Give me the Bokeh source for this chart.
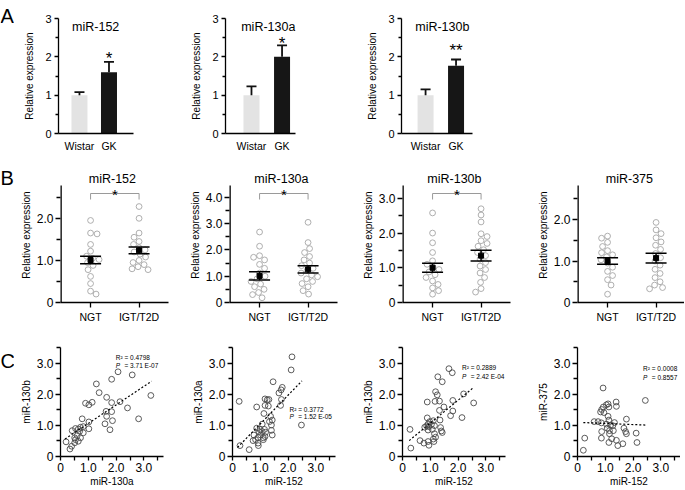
import numpy as np
from bokeh.plotting import figure
from bokeh.layouts import column, row
from bokeh.models import FixedTicker, Label, Range1d, CustomJSTickFormatter
from bokeh.core.properties import value
from bokeh.embed import file_html
from bokeh.resources import INLINE

FONT = "Liberation Sans"

# ---------------- Panel A data ----------------
a_titles = ["miR-152", "miR-130a", "miR-130b"]
a_groups = ["Wistar", "GK"]
a_wistar_mean = [1.0, 1.0, 1.0]
a_wistar_err = [0.08, 0.23, 0.15]
a_gk_mean = [1.6, 2.0, 1.77]
a_gk_err = [0.27, 0.30, 0.16]
a_sig = ["*", "*", "**"]

# ---------------- Panel B data ----------------
b_titles = ["miR-152", "miR-130a", "miR-130b", "miR-375"]
b_groups = ["NGT", "IGT/T2D"]
b_ngt_152 = [1.95, 1.65, 1.63, 1.38, 1.22, 1.1, 1.05, 1.02, 0.95, 0.88, 0.78, 0.62, 0.45, 0.27, 0.2]
b_igt_152 = [2.28, 2.0, 1.65, 1.55, 1.45, 1.38, 1.3, 1.25, 1.2, 1.15, 1.08, 1.0, 0.95, 0.9, 0.85, 0.8, 0.78]
b_ngt_130a = [2.68, 2.14, 1.78, 1.72, 1.62, 1.45, 1.3, 1.12, 1.0, 0.9, 0.8, 0.7, 0.6, 0.5, 0.38, 0.3, 0.18]
b_igt_130a = [3.05, 2.28, 2.05, 1.9, 1.75, 1.62, 1.5, 1.4, 1.3, 1.22, 1.12, 1.05, 0.98, 0.9, 0.8, 0.72, 0.6, 0.45, 0.32]
b_ngt_130b = [2.58, 2.0, 1.72, 1.44, 1.2, 1.1, 1.02, 0.95, 0.88, 0.8, 0.72, 0.62, 0.52, 0.42, 0.34, 0.24]
b_igt_130b = [2.7, 2.52, 2.32, 1.98, 1.9, 1.78, 1.7, 1.62, 1.52, 1.44, 1.35, 1.25, 1.15, 1.05, 0.95, 0.85, 0.72, 0.58, 0.4, 0.3]
b_ngt_375 = [1.6, 1.55, 1.45, 1.35, 1.25, 1.2, 1.15, 1.1, 1.03, 0.95, 0.85, 0.75, 0.65, 0.55, 0.42, 0.2]
b_igt_375 = [1.93, 1.75, 1.66, 1.56, 1.46, 1.38, 1.28, 1.18, 1.08, 1.0, 0.9, 0.8, 0.7, 0.6, 0.5, 0.42, 0.36, 0.33]
b_ngt_mean = [1.01, 1.01, 1.0, 1.0]
b_ngt_sem = [0.09, 0.155, 0.13, 0.08]
b_igt_mean = [1.24, 1.26, 1.35, 1.07]
b_igt_sem = [0.08, 0.14, 0.155, 0.12]
b_sig = ["*", "*", "*", ""]

# ---------------- Panel C data ----------------
c_xlabels = ["miR-130a", "miR-152", "miR-152", "miR-152"]
c_ylabels = ["miR-130b", "miR-130a", "miR-130b", "miR-375"]
c1_x = [2.07, 2.58, 1.84, 1.29, 1.39, 1.66, 3.25, 0.90, 1.02, 1.14, 1.84, 2.14, 2.41, 1.64, 1.84, 1.66, 0.78, 2.81, 1.87, 1.02,
        1.60, 1.78, 1.02, 0.82, 0.72, 0.64, 0.54, 0.42, 0.82, 0.69, 0.60, 0.51, 0.72, 0.64, 0.51, 0.20, 0.40, 0.34, 0.54]
c1_y = [2.72, 2.62, 2.48, 2.33, 2.05, 1.90, 1.96, 1.71, 1.66, 1.74, 1.73, 1.76, 1.56, 1.45, 1.44, 1.29, 1.21, 1.21, 1.15, 1.11,
        1.05, 0.86, 0.89, 0.96, 0.94, 0.88, 0.90, 0.83, 0.76, 0.81, 0.67, 0.60, 0.60, 0.49, 0.44, 0.47, 0.33, 0.24, 0.54]
c2_x = [2.14, 2.11, 1.46, 1.79, 1.75, 1.67, 0.24, 1.17, 1.31, 1.25, 1.17, 1.29, 0.87, 1.76, 1.73, 1.13, 1.37, 1.43, 1.33, 1.07,
        1.40, 2.48, 0.87, 0.99, 1.15, 1.40, 0.95, 1.07, 1.19, 0.77, 1.01, 1.43, 0.92, 1.11, 0.83, 0.74, 1.11, 0.92, 1.17, 0.27,
        0.60, 0.93]
c2_y = [3.20, 2.78, 2.40, 2.22, 2.14, 2.04, 1.77, 1.85, 1.83, 1.82, 1.64, 1.62, 1.59, 1.83, 1.64, 1.38, 1.29, 1.17, 1.12, 1.04,
        1.01, 1.01, 0.91, 0.87, 0.87, 0.84, 0.80, 0.80, 0.78, 0.69, 0.69, 0.69, 0.61, 0.60, 0.54, 0.51, 0.54, 0.43, 0.64, 0.35,
        0.22, 0.35]
c3_x = [1.67, 1.79, 1.27, 1.43, 1.19, 1.25, 0.89, 1.17, 1.33, 1.81, 2.56, 2.20, 1.49, 1.33, 1.81, 1.73, 2.14, 0.89, 1.35, 1.11,
        0.98, 0.92, 1.04, 1.15, 0.87, 0.95, 0.80, 0.27, 0.92, 1.37, 1.40, 1.43, 1.15, 1.07, 1.19, 1.11, 1.13, 0.63, 0.77, 0.92,
        0.95, 0.30]
c3_y = [2.82, 2.69, 2.56, 2.40, 2.08, 1.98, 1.75, 1.77, 1.78, 1.80, 1.72, 2.01, 1.59, 1.48, 1.46, 1.31, 1.25, 1.24, 1.17, 1.15,
        1.12, 1.04, 1.03, 0.99, 0.98, 0.96, 0.94, 0.87, 0.85, 0.93, 0.82, 0.77, 0.73, 0.87, 0.62, 0.56, 0.48, 0.51, 0.43, 0.48,
        0.36, 0.27]
c4_x = [0.92, 2.44, 1.39, 1.10, 1.04, 1.13, 1.40, 0.93, 0.87, 0.83, 0.95, 1.10, 1.76, 1.13, 0.60, 0.74, 0.86, 1.04, 1.19, 1.33,
        1.27, 1.07, 1.67, 1.15, 1.29, 1.73, 1.76, 0.87, 2.11, 1.15, 1.23, 1.40, 1.13, 1.45, 1.63, 2.14, 0.86, 0.26, 0.21]
c4_y = [2.20, 1.80, 1.75, 1.69, 1.66, 1.59, 1.61, 1.59, 1.51, 1.43, 1.41, 1.29, 1.20, 1.17, 1.12, 1.12, 1.08, 1.04, 1.01, 1.09,
        0.99, 0.91, 0.91, 0.83, 0.83, 0.80, 0.73, 0.80, 0.75, 0.73, 0.57, 0.52, 0.45, 0.35, 0.41, 0.45, 0.59, 0.59, 0.20]
c_fit_x = [[0.16, 3.28], [0.18, 2.50], [0.24, 2.56], [0.21, 2.44]]
c_fit_y = [[0.56, 2.42], [0.29, 2.43], [0.51, 2.22], [1.09, 1.01]]
c_r2 = ["0.4798", "0.3772", "0.2889", "0.0008"]
c_p = ["3.71 E-07", "1.52 E-05", "2.42 E-04", "0.8557"]
panel_letters = ["A", "B", "C"]

# ---------------- layout / style (not data) ----------------
# (Bokeh's standalone page template has zero body margin, so the canvas starts at 0,0.)
LETTER_W = 14
A_LAYOUT = [(161, 44, 42, (0.29, 2.83)),
            (176, 50, 56, (0.15, 2.44)),
            (126, 50, 5, (0.21, 2.54))]
A_SIG_Y = [2.23, 2.62, 2.42]
B_LAYOUT = [(163, 46, 9), (173, 52, 13), (175, 52, 15), (159, 52, 0)]
B_YEND = [2.78, 4.45, 3.37, 2.82]
C_LAYOUT = [(166, 46, 17), (170, 52, 15), (175, 52, 20), (155, 52, 0)]
C_NOTE_XY = [(1.99, 3.25, 2.99), (2.05, 1.57, 1.36), (2.14, 2.94, 2.64), (2.36, 2.90, 2.62)]
A_H, A_TOP, A_BOT = 155, 18, 22
B_H, B_TOP, B_EXT, B_BOT = 172, 12, 18, 25
C_H, C_TOP, C_BOT = 162, 20, 32
TOTAL_H = A_H + B_H + C_H

num_fmt = CustomJSTickFormatter(code="return tick == 0 ? '0' : tick.toFixed(1);")


def base_fig(width, height, left, right, top, bottom, xr, yr, tick_px="12px"):
    p = figure(width=width, height=height, x_range=Range1d(*xr), y_range=Range1d(*yr),
               output_backend="svg", toolbar_location=None, tools="",
               min_border_left=left, min_border_right=right,
               min_border_top=top, min_border_bottom=bottom)
    p.outline_line_color = None
    p.xgrid.visible = False
    p.ygrid.visible = False
    p.background_fill_color = "white"
    p.border_fill_color = "white"
    for ax in (p.xaxis[0], p.yaxis[0]):
        ax.axis_line_color = "black"
        ax.axis_line_width = 1.3
        ax.major_tick_line_color = "black"
        ax.major_tick_line_width = 1.3
        ax.minor_tick_line_color = "black"
        ax.minor_tick_line_width = 1.3
        ax.major_tick_in = 0
        ax.minor_tick_in = 0
        ax.major_tick_out = 5
        ax.minor_tick_out = 4
        ax.major_label_standoff = 2
        ax.major_label_text_font = FONT
        ax.major_label_text_font_size = tick_px
        ax.major_label_text_color = "black"
        ax.axis_label_text_font = FONT
        ax.axis_label_text_font_size = "10px"
        ax.axis_label_text_font_style = "normal"
        ax.axis_label_text_color = "black"
        ax.axis_label_standoff = 2
    return p


def lbl(p, x, y, text, size, dx=0, dy=0, align="center", style="normal"):
    p.add_layout(Label(x=x, y=y, x_offset=dx, y_offset=dy, text=text, text_font=FONT,
                       text_font_size=f"{size}px", text_align=align, text_baseline="alphabetic",
                       text_font_style=style, text_color="black"))


def swarm(vals, ppu_y, ppu_x, diam=6.2, step=0.5):
    vals = np.asarray(vals, float)
    order = np.argsort(-vals)
    placed = []
    off = np.zeros(len(vals))
    for n, i in enumerate(order):
        yp = vals[i] * ppu_y
        k = 0
        while True:
            s = 1 if n % 2 == 0 else -1
            cands = [0.0] if k == 0 else [s * k * step, -s * k * step]
            hit = None
            for c in cands:
                if all((c - px) ** 2 + (yp - py) ** 2 >= diam ** 2 for px, py in placed):
                    hit = c
                    break
            if hit is not None:
                off[i] = hit
                placed.append((hit, yp))
                break
            k += 1
    return off / ppu_x


# ---------------- panel letters column ----------------
lf = figure(width=LETTER_W, height=TOTAL_H, x_range=Range1d(0, LETTER_W), y_range=Range1d(0, TOTAL_H),
            output_backend="svg", toolbar_location=None, tools="",
            min_border_left=0, min_border_right=0, min_border_top=0, min_border_bottom=0)
lf.axis.visible = False
lf.grid.visible = False
lf.outline_line_color = None
LETTER_BASE = [15, 177, 360]
lf.text(x=[0, 0, 0], y=[TOTAL_H - b for b in LETTER_BASE], text=panel_letters,
        text_font=value(FONT), text_font_size="20px", text_baseline="alphabetic", text_align="left",
        text_color="black")

# ---------------- Panel A ----------------
a_figs = []
for i in range(3):
    width, left, right, xr = A_LAYOUT[i]
    fw = width - left - right
    ppx = fw / (xr[1] - xr[0])
    p = base_fig(width, A_H, left, right, A_TOP, A_BOT, xr, (0, 3), tick_px="11px")
    p.yaxis[0].ticker = FixedTicker(ticks=[0, 1, 2, 3], minor_ticks=[0.5, 1.5, 2.5])
    p.yaxis[0].major_tick_out = 4
    p.yaxis[0].minor_tick_out = 3
    p.yaxis[0].major_label_standoff = 3
    p.yaxis[0].axis_label = "Relative expression"
    p.yaxis[0].axis_label_standoff = 7
    p.xaxis[0].ticker = FixedTicker(ticks=[1, 2], minor_ticks=[])
    p.xaxis[0].formatter = CustomJSTickFormatter(args=dict(labels=a_groups),
                                                 code="return labels[Math.round(tick) - 1];")
    p.xaxis[0].major_tick_out = 0
    p.xaxis[0].major_label_standoff = 6
    p.xaxis[0].major_label_text_font_size = "10.5px"
    means = [a_wistar_mean[i], a_gk_mean[i]]
    errs = [a_wistar_err[i], a_gk_err[i]]
    p.vbar(x=[1, 2], top=means, bottom=0, width=16 / ppx,
           fill_color=["#e3e3e3", "#161616"], line_color=None)
    tops = [m + e for m, e in zip(means, errs)]
    p.segment(x0=[1, 2], y0=means, x1=[1, 2], y1=tops, line_color="#111111", line_width=1.8)
    hw = 5 / ppx
    p.segment(x0=[1 - hw, 2 - hw], y0=tops, x1=[1 + hw, 2 + hw], y1=tops,
              line_color="#111111", line_width=1.8)
    lbl(p, 1.55, 3, a_titles[i], 12.5, dy=-8.5)
    lbl(p, 2, A_SIG_Y[i], a_sig[i], 17, dy=-10)
    a_figs.append(p)

# ---------------- Panel B ----------------
b_ngt = [b_ngt_152, b_ngt_130a, b_ngt_130b, b_ngt_375]
b_igt = [b_igt_152, b_igt_130a, b_igt_130b, b_igt_375]
b_figs = []
for i in range(4):
    width, left, right = B_LAYOUT[i]
    fw = width - left - right
    axis_h = B_H - B_TOP - B_EXT - B_BOT
    ppx = 48.5
    xr = (0.38, 0.38 + fw / ppx)
    yend = B_YEND[i]
    ppy = axis_h / yend
    ytop = yend + B_EXT / ppy
    p = base_fig(width, B_H, left, right, B_TOP, B_BOT, xr, (0, ytop))
    majors = [k for k in range(0, 5) if k <= yend]
    minors = [k + 0.5 for k in range(0, 5) if k + 0.5 <= yend]
    p.yaxis[0].ticker = FixedTicker(ticks=majors, minor_ticks=minors)
    p.yaxis[0].formatter = num_fmt
    p.yaxis[0].axis_label = "Relative expression"
    p.yaxis[0].axis_line_color = None
    p.segment(x0=[xr[0]], y0=[0], x1=[xr[0]], y1=[yend], line_color="black", line_width=2.6)
    p.xaxis[0].ticker = FixedTicker(ticks=[1, 2], minor_ticks=[])
    p.xaxis[0].formatter = CustomJSTickFormatter(args=dict(labels=b_groups),
                                                 code="return labels[Math.round(tick) - 1];")
    p.xaxis[0].major_label_standoff = 3
    p.xaxis[0].major_label_text_font_size = "10.5px"
    for g, vals in ((1, b_ngt[i]), (2, b_igt[i])):
        off = swarm(vals, ppy, ppx)
        p.scatter(x=list(g + off), y=vals, marker="circle", size=5.8, fill_color=None,
                  line_color="#a0a0a0", line_width=0.85)
    means = [b_ngt_mean[i], b_igt_mean[i]]
    sems = [b_ngt_sem[i], b_igt_sem[i]]
    hw = 10.5 / ppx
    for g, m, s in zip([1, 2], means, sems):
        p.segment(x0=[g - hw, g - hw, g], y0=[m - s, m + s, m - s],
                  x1=[g + hw, g + hw, g], y1=[m - s, m + s, m + s],
                  line_color="black", line_width=1.5)
    p.scatter(x=[1, 2], y=means, marker="square", size=5, fill_color="black", line_color="black")
    if b_sig[i]:
        ybr = yend - 8 / ppy
        drop = 6 / ppy
        p.line([1, 1, 2, 2], [ybr - drop, ybr, ybr, ybr - drop], line_color="#9a9a9a", line_width=1)
        lbl(p, 1.5, ybr, b_sig[i], 15, dy=-0.5)
    lbl(p, 1.45, yend, b_titles[i], 12.5, dy=7)
    b_figs.append(p)

# ---------------- Panel C ----------------
c_xs = [c1_x, c2_x, c3_x, c4_x]
c_ys = [c1_y, c2_y, c3_y, c4_y]
c_figs = []
for i in range(4):
    width, left, right = C_LAYOUT[i]
    fw = width - left - right
    xr = (0, fw / 27.8)
    p = base_fig(width, C_H, left, right, C_TOP, C_BOT, xr, (0, 3.5))
    p.yaxis[0].ticker = FixedTicker(ticks=[0, 1, 2, 3], minor_ticks=[0.5, 1.5, 2.5, 3.5])
    p.xaxis[0].ticker = FixedTicker(ticks=[0, 1, 2, 3], minor_ticks=[0.5, 1.5, 2.5, 3.5])
    p.xaxis[0].formatter = num_fmt
    p.yaxis[0].formatter = num_fmt
    p.xaxis[0].major_label_standoff = 2
    p.xaxis[0].axis_label_standoff = 1
    p.xaxis[0].major_tick_out = 4
    p.xaxis[0].minor_tick_out = 4
    p.xaxis[0].axis_label = c_xlabels[i]
    p.yaxis[0].axis_label = c_ylabels[i]
    p.scatter(x=c_xs[i], y=c_ys[i], marker="circle", size=5.8, fill_color=None,
              line_color="#4a4a4a", line_width=0.9)
    p.line(c_fit_x[i], c_fit_y[i], line_color="black", line_width=1.2, line_dash="2 2")
    nx, ny1, ny2 = C_NOTE_XY[i]
    lbl(p, nx, ny1, "R\u00b2 = " + c_r2[i], 6.5, dy=-2.3, align="left")
    lbl(p, nx, ny2, "P", 6.5, dy=-2.3, align="left", style="italic")
    lbl(p, nx, ny2, "= " + c_p[i], 6.5, dx=8.7, dy=-2.3, align="left")
    c_figs.append(p)

layout = row(lf, column(row(*a_figs), row(*b_figs), row(*c_figs)))
open("out.html", "w").write(file_html(layout, INLINE))
